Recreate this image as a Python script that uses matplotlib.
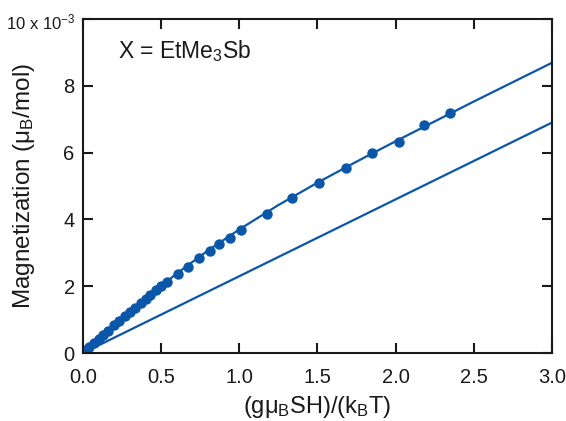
import matplotlib
matplotlib.use("Agg")
import matplotlib.pyplot as plt

plt.rcParams['font.family'] = ['Liberation Sans', 'DejaVu Sans']
plt.rcParams['mathtext.fontset'] = 'custom'
plt.rcParams['mathtext.rm'] = 'Liberation Sans'
plt.rcParams['mathtext.it'] = 'Liberation Sans'
plt.rcParams['mathtext.default'] = 'regular'

# measured data (x: g*muB*S*H/(kB*T), y: magnetization in 1e-3 muB/mol)
data_x = [0.005, 0.02, 0.04, 0.07, 0.10, 0.13, 0.16, 0.20, 0.23, 0.27, 0.30,
          0.33, 0.37, 0.40, 0.43, 0.47, 0.50, 0.535, 0.61, 0.67, 0.74, 0.81,
          0.87, 0.94, 1.01, 1.18, 1.34, 1.51, 1.68, 1.85, 2.02, 2.18, 2.35]
data_y = [0.021, 0.083, 0.167, 0.29, 0.417, 0.54, 0.66, 0.83, 0.95, 1.115, 1.235,
          1.355, 1.51, 1.63, 1.745, 1.90, 2.01, 2.12, 2.37, 2.58, 2.84, 3.04,
          3.25, 3.45, 3.69, 4.16, 4.63, 5.09, 5.53, 5.98, 6.33, 6.82, 7.19]

# fitted curve through the data
fit_x = [0, 0.05, 0.1, 0.2, 0.3, 0.4, 0.5, 0.6, 0.8, 1.0, 1.25, 1.5, 1.75, 2.0, 2.5, 3.0]
fit_y = [0, 0.209, 0.417, 0.83, 1.235, 1.63, 2.01, 2.38, 3.07, 3.70, 4.43, 5.10, 5.73, 6.34, 7.53, 8.69]

# lower reference line
ref_x = [0, 3.0]
ref_y = [0, 6.9]

xticks = [0.0, 0.5, 1.0, 1.5, 2.0, 2.5, 3.0]
xtick_labels = ['0.0', '0.5', '1.0', '1.5', '2.0', '2.5', '3.0']
yticks = [0, 2, 4, 6, 8, 10]
ytick_labels = ['0', '2', '4', '6', '8', '']

blue = '#0a56a8'
ink = '#1a1a1a'

fig = plt.figure(figsize=(5.66, 4.21), dpi=100)
ax = fig.add_axes([0.1466, 0.1615, 0.8287, 0.7934])

ax.plot(ref_x, ref_y, color=blue, lw=1.6)
ax.plot(fit_x, fit_y, color=blue, lw=1.6)
ax.plot(data_x, data_y, 'o', color=blue, ms=6.5, mec=blue)

ax.set_xlim(0, 3.0)
ax.set_ylim(0, 10)
ax.set_xticks(xticks)
ax.set_xticklabels(xtick_labels)
ax.set_yticks(yticks)
ax.set_yticklabels(ytick_labels)
ax.tick_params(direction='in', length=7, width=1.5, top=True, right=True,
               labelsize=14.5, colors=ink)
ax.tick_params(axis='x', pad=11)
ax.tick_params(axis='y', pad=6)
for s in ax.spines.values():
    s.set_linewidth(1.5)
    s.set_color(ink)

ax.set_xlabel('(gμ$_\\mathrm{B}$SH)/(k$_\\mathrm{B}$T)', fontsize=17, color=ink, labelpad=5)
ax.set_ylabel('Magnetization (μ$_\\mathrm{B}$/mol)', fontsize=17.5, color=ink, labelpad=19)

ax.text(-0.016, 0.99, '10 x 10$^{-3}$', transform=ax.transAxes, ha='right', va='center',
        fontsize=12, color=ink)
ax.text(0.075, 0.905, 'X = EtMe$_3$Sb', transform=ax.transAxes, ha='left', va='center',
        fontsize=16.5, color=ink)

fig.savefig('out.png', dpi=100)
